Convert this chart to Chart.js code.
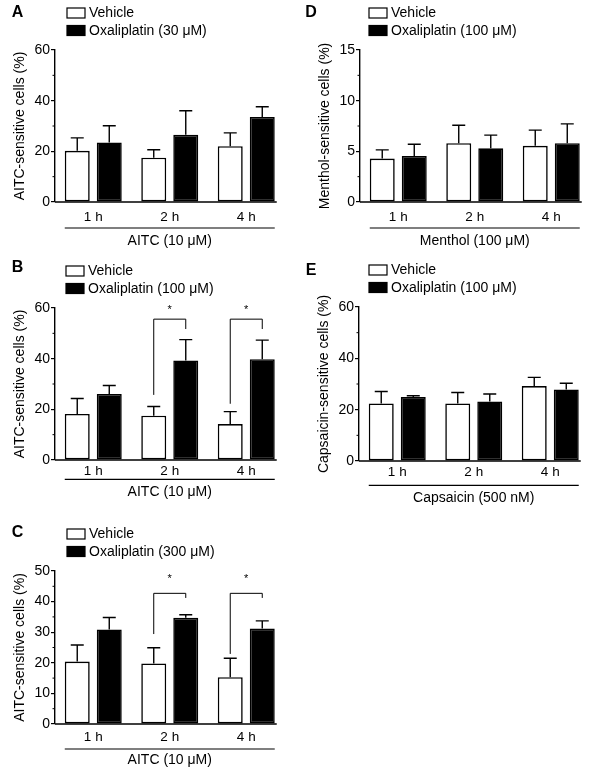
<!DOCTYPE html>
<html>
<head>
<meta charset="utf-8">
<script src="https://cdn.jsdelivr.net/npm/chart.js@4.4.1/dist/chart.umd.min.js"></script>
<style>
  body { margin: 0; background: #fff; }
  #page { position: relative; width: 600px; height: 777px; overflow: hidden; }
  #page canvas { position: absolute; }
</style>
</head>
<body>
<div id="page">
  <canvas id="chartA"></canvas>
  <canvas id="chartB"></canvas>
  <canvas id="chartC"></canvas>
  <canvas id="chartD"></canvas>
  <canvas id="chartE"></canvas>
</div>
<script>
const hours = ['1 h', '2 h', '4 h'];

// A: AITC response, oxaliplatin 30 uM
const aVehicle = [20.2, 17.5, 22.0];
const aVehicleSem = [5.1, 3.1, 5.3];
const aOxali = [23.5, 26.5, 33.6];
const aOxaliSem = [6.6, 9.5, 4.0];

// B: AITC response, oxaliplatin 100 uM
const bVehicle = [18.2, 17.5, 14.2];
const bVehicleSem = [6.1, 3.6, 4.9];
const bOxali = [26.1, 39.3, 39.8];
const bOxaliSem = [3.3, 8.2, 7.5];

// C: AITC response, oxaliplatin 300 uM
const cVehicle = [20.4, 19.8, 15.3];
const cVehicleSem = [5.4, 5.1, 6.2];
const cOxali = [30.9, 34.7, 31.2];
const cOxaliSem = [3.9, 1.0, 2.5];

// D: menthol response, oxaliplatin 100 uM
const dVehicle = [4.29, 5.8, 5.54];
const dVehicleSem = [0.85, 1.78, 1.55];
const dOxali = [4.55, 5.3, 5.8];
const dOxaliSem = [1.15, 1.3, 1.91];

// E: capsaicin response, oxaliplatin 100 uM
const eVehicle = [22.4, 22.4, 29.2];
const eVehicleSem = [4.7, 4.3, 3.4];
const eOxali = [24.9, 23.2, 27.9];
const eOxaliSem = [0.5, 2.9, 2.4];

// y axis max / step
const yMax = { A: 60, B: 60, C: 50, D: 15, E: 60 };
const yStep = { A: 20, B: 20, C: 10, D: 5, E: 20 };

// * brackets: [category, left foot, top, right foot, star]
const bSig = [[1, 25.7, 55.6, 51.7, 60], [2, 22.2, 55.6, 51.7, 60]];
const cSig = [[1, 29.4, 42.7, 41.2, 48], [2, 22.9, 42.7, 41.2, 48]];

const FONT = '"Liberation Sans", Arial, Helvetica, sans-serif';
Chart.defaults.font.family = FONT;
Chart.defaults.color = '#000';

const extras = {
  id: 'extras',
  afterDatasetsDraw(chart, args, o) {
    const ctx = chart.ctx;
    const area = chart.chartArea;
    const ys = chart.scales.y;
    const m0 = chart.getDatasetMeta(0);
    const m1 = chart.getDatasetMeta(1);
    ctx.save();
    ctx.strokeStyle = '#000';
    ctx.fillStyle = '#000';

    // error bars (upper only)
    chart.data.datasets.forEach((ds, i) => {
      chart.getDatasetMeta(i).data.forEach((bar, j) => {
        const yTop = ys.getPixelForValue(ds.data[j] + ds.sem[j]);
        ctx.lineWidth = 1.4;
        ctx.beginPath();
        ctx.moveTo(bar.x, bar.y);
        ctx.lineTo(bar.x, yTop);
        ctx.moveTo(bar.x - 6.5, yTop);
        ctx.lineTo(bar.x + 6.5, yTop);
        ctx.stroke();
      });
    });

    const first = m0.data[0];
    const last = m1.data[m1.data.length - 1];
    const x0 = first.x - first.width / 2;
    const x1 = last.x + last.width / 2;

    // x axis line
    ctx.lineWidth = 1.4;
    ctx.beginPath();
    ctx.moveTo(area.left, area.bottom);
    ctx.lineTo(x1 + 2, area.bottom);
    ctx.stroke();

    // line under the time labels
    const uy = area.bottom + o.underline;
    ctx.lineWidth = 1.2;
    ctx.beginPath();
    ctx.moveTo(x0, uy);
    ctx.lineTo(x1, uy);
    ctx.stroke();

    // minor ticks
    ctx.lineWidth = 1;
    for (let v = o.step / 2; v < o.max; v += o.step) {
      const y = ys.getPixelForValue(v);
      ctx.beginPath();
      ctx.moveTo(area.left - 2.5, y);
      ctx.lineTo(area.left, y);
      ctx.stroke();
    }

    // significance brackets
    (o.sig || []).forEach(([c, l, t, r, s]) => {
      const xl = m0.data[c].x, xr = m1.data[c].x;
      const yt = ys.getPixelForValue(t);
      ctx.lineWidth = 1;
      ctx.beginPath();
      ctx.moveTo(xl, ys.getPixelForValue(l));
      ctx.lineTo(xl, yt);
      ctx.lineTo(xr, yt);
      ctx.lineTo(xr, ys.getPixelForValue(r));
      ctx.stroke();
      ctx.font = '11px ' + FONT;
      ctx.textAlign = 'center';
      ctx.textBaseline = 'middle';
      ctx.fillText('*', (xl + xr) / 2, ys.getPixelForValue(s) + 2);
    });

    // legend
    const lx = area.left + o.legendDx;
    const rows = [area.top - 37, area.top - 19.5];
    ctx.font = '14px ' + FONT;
    ctx.textAlign = 'left';
    ctx.textBaseline = 'middle';
    chart.data.datasets.forEach((ds, i) => {
      const cy = rows[i];
      ctx.fillStyle = ds.backgroundColor;
      ctx.fillRect(lx, cy - 5, 18, 10);
      ctx.lineWidth = 1.2;
      ctx.strokeRect(lx, cy - 5, 18, 10);
      ctx.fillStyle = '#000';
      ctx.fillText(ds.label, lx + 22, cy + 0.5);
    });

    // panel letter
    ctx.font = 'bold 16px ' + FONT;
    ctx.textAlign = 'center';
    ctx.fillText(o.letter, o.letterX, o.letterY);

    ctx.restore();
  }
};

function makePanel(p) {
  const canvas = document.getElementById(p.id);
  canvas.width = p.w;
  canvas.height = 256;
  canvas.style.left = p.left + 'px';
  canvas.style.top = p.top + 'px';
  canvas.style.width = p.w + 'px';
  canvas.style.height = '256px';

  new Chart(canvas.getContext('2d'), {
    type: 'bar',
    data: {
      labels: hours,
      datasets: [{
        label: 'Vehicle',
        data: p.vehicle,
        sem: p.vehicleSem,
        backgroundColor: '#ffffff',
        borderColor: '#000000',
        borderWidth: 1.6,
        borderSkipped: false
      }, {
        label: p.oxaliLabel,
        data: p.oxali,
        sem: p.oxaliSem,
        backgroundColor: '#000000',
        borderColor: '#000000',
        borderWidth: 1.6,
        borderSkipped: false
      }]
    },
    options: {
      responsive: false,
      animation: false,
      events: [],
      categoryPercentage: 0.837,
      barPercentage: 0.78,
      layout: {
        padding: { left: 0, top: 50, right: p.w - 284.5, bottom: 256 - 50 - p.chartH - 48 }
      },
      scales: {
        x: {
          grid: { display: false, drawTicks: false },
          border: { display: false },
          ticks: { padding: p.labelOff - 8.1, font: { size: 13.5 }, color: '#000' },
          title: {
            display: true,
            text: p.xTitle,
            color: '#000',
            font: { size: 14 },
            padding: { top: 0, bottom: Math.max(0, 39.6 - p.titleOff) }
          },
          afterFit: s => { s.height = 48; }
        },
        y: {
          min: 0,
          max: p.max,
          ticks: { stepSize: p.step, padding: 1, font: { size: 14 }, color: '#000' },
          grid: { drawOnChartArea: false, drawTicks: true, tickLength: 4, color: '#000', lineWidth: 1.2 },
          border: { color: '#000', width: 1.4 },
          title: {
            display: true,
            text: p.yTitle,
            color: '#000',
            font: { size: 14 },
            padding: { top: 11.6, bottom: 0 }
          },
          afterFit: s => { s.width = 55; }
        }
      },
      plugins: {
        legend: { display: false },
        tooltip: { enabled: false },
        extras: {
          letter: p.letter,
          letterX: p.letterX,
          letterY: p.letterY,
          legendDx: p.legendDx,
          underline: p.underline,
          max: p.max,
          step: p.step,
          sig: p.sig
        }
      }
    },
    plugins: [extras]
  });
}

makePanel({
  id: 'chartA', letter: 'A', left: 0, top: 0, w: 300, chartH: 152,
  vehicle: aVehicle, vehicleSem: aVehicleSem, oxali: aOxali, oxaliSem: aOxaliSem,
  oxaliLabel: 'Oxaliplatin (30 μM)', xTitle: 'AITC (10 μM)', yTitle: 'AITC-sensitive cells (%)',
  max: yMax.A, step: yStep.A, sig: [],
  labelOff: 15, underline: 26, titleOff: 40, legendDx: 12, letterX: 17.5, letterY: 12.7
});
makePanel({
  id: 'chartB', letter: 'B', left: 0, top: 258, w: 300, chartH: 152,
  vehicle: bVehicle, vehicleSem: bVehicleSem, oxali: bOxali, oxaliSem: bOxaliSem,
  oxaliLabel: 'Oxaliplatin (100 μM)', xTitle: 'AITC (10 μM)', yTitle: 'AITC-sensitive cells (%)',
  max: yMax.B, step: yStep.B, sig: bSig,
  labelOff: 11.7, underline: 19.3, titleOff: 31.7, legendDx: 11, letterX: 17.5, letterY: 10
});
makePanel({
  id: 'chartC', letter: 'C', left: 0, top: 521, w: 300, chartH: 153,
  vehicle: cVehicle, vehicleSem: cVehicleSem, oxali: cOxali, oxaliSem: cOxaliSem,
  oxaliLabel: 'Oxaliplatin (300 μM)', xTitle: 'AITC (10 μM)', yTitle: 'AITC-sensitive cells (%)',
  max: yMax.C, step: yStep.C, sig: cSig,
  labelOff: 13.4, underline: 25, titleOff: 35.7, legendDx: 12, letterX: 17.5, letterY: 11.7
});
makePanel({
  id: 'chartD', letter: 'D', left: 305, top: 0, w: 295, chartH: 152,
  vehicle: dVehicle, vehicleSem: dVehicleSem, oxali: dOxali, oxaliSem: dOxaliSem,
  oxaliLabel: 'Oxaliplatin (100 μM)', xTitle: 'Menthol (100 μM)', yTitle: 'Menthol-sensitive cells (%)',
  max: yMax.D, step: yStep.D, sig: [],
  labelOff: 15, underline: 26, titleOff: 40, legendDx: 9, letterX: 6, letterY: 13
});
makePanel({
  id: 'chartE', letter: 'E', left: 304, top: 257, w: 296, chartH: 154,
  vehicle: eVehicle, vehicleSem: eVehicleSem, oxali: eOxali, oxaliSem: eOxaliSem,
  oxaliLabel: 'Oxaliplatin (100 μM)', xTitle: 'Capsaicin (500 nM)', yTitle: 'Capsaicin-sensitive cells (%)',
  max: yMax.E, step: yStep.E, sig: [],
  labelOff: 11, underline: 24.3, titleOff: 37.6, legendDx: 10, letterX: 7, letterY: 13.7
});
</script>
</body>
</html>
